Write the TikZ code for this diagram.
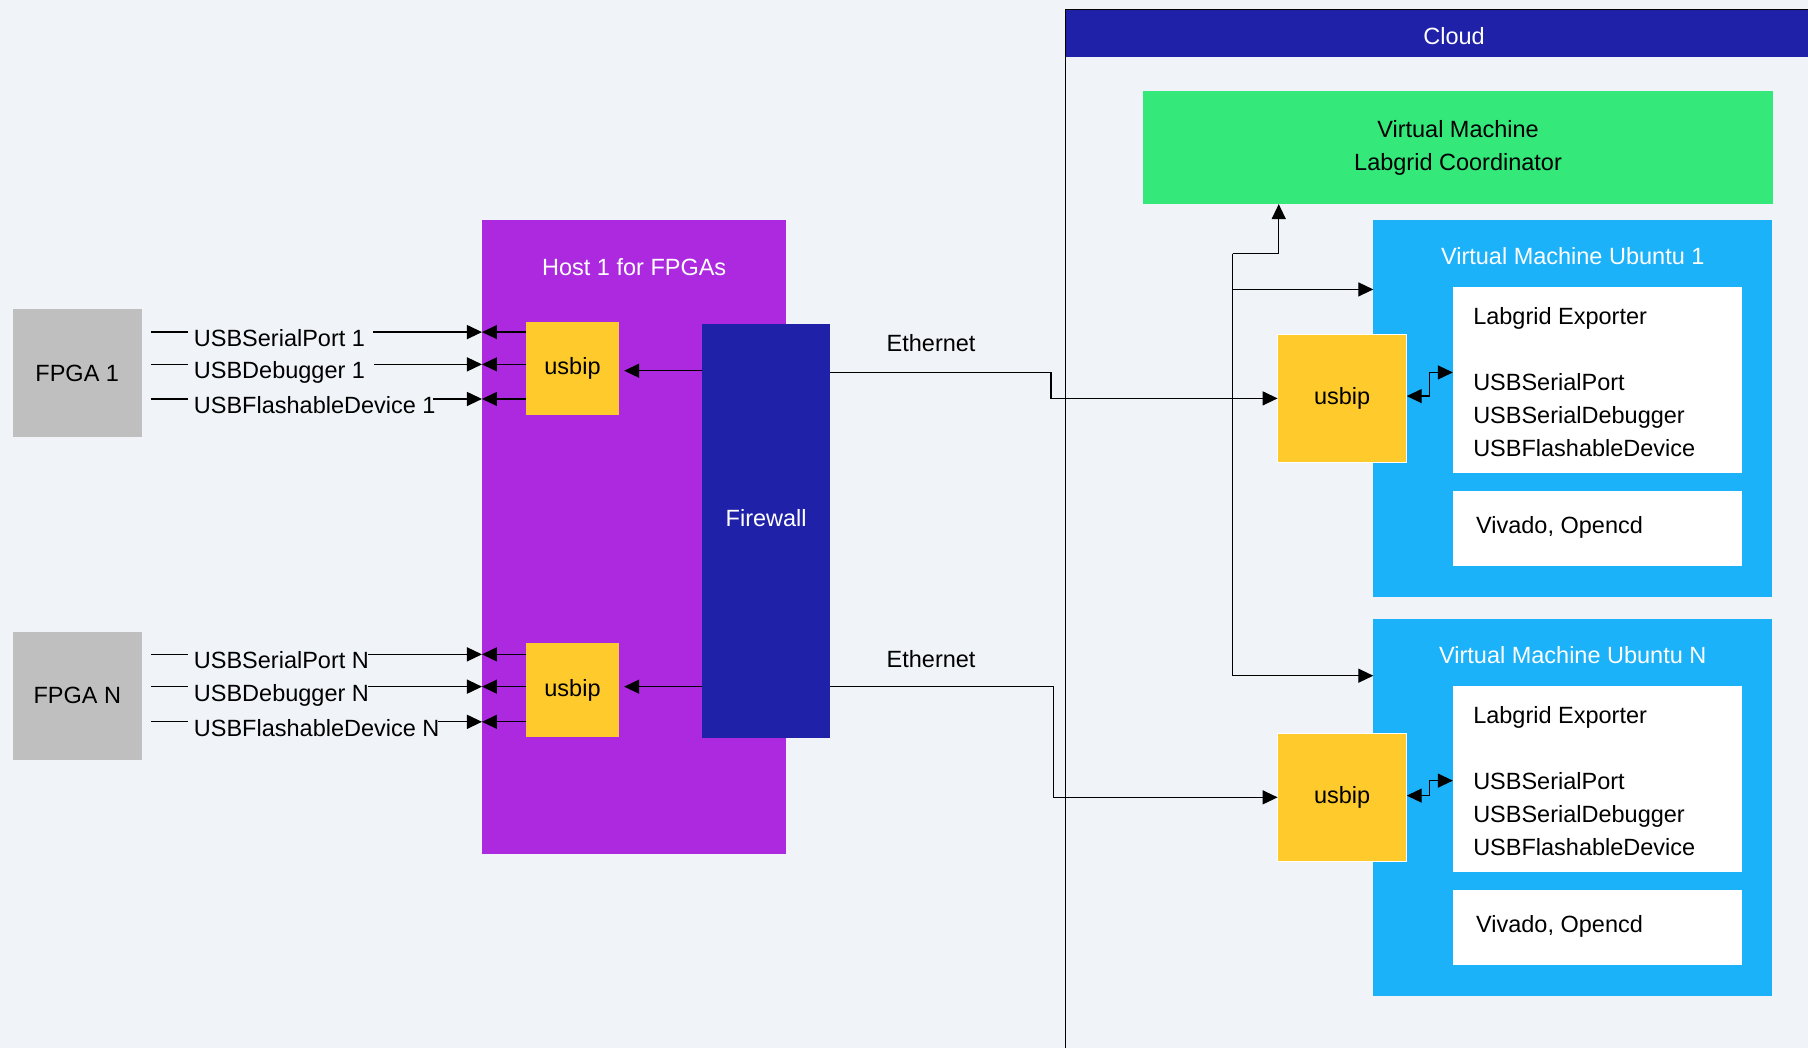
\documentclass[tikz,border=0pt]{standalone}
\usepackage{fontspec}
\setmainfont{Liberation Sans}
\usetikzlibrary{arrows.meta,calc}

\definecolor{bgcol}{HTML}{F0F4F8}
\definecolor{hostpurple}{HTML}{AD29DF}
\definecolor{usbyellow}{HTML}{FFCA2B}
\definecolor{navy}{HTML}{1F21A9}
\definecolor{vmblue}{HTML}{1BB2FA}
\definecolor{coordgreen}{HTML}{34E87A}
\definecolor{fpgagray}{HTML}{BFBFBF}

% one drawing unit
\newcommand\pxu{1.1531pt}

\begin{document}
\begin{tikzpicture}[x=1.1531pt, y=-1.1531pt,
  font=\fontsize{23.5}{33}\selectfont,
  box/.style={inner sep=0pt, outer sep=0pt, draw=none},
  rect/.style 2 args={anchor=north west, minimum width=#1*\pxu, minimum height=#2*\pxu},
  fpgabox/.style={box, fill=fpgagray},
  usbbox/.style={box, fill=usbyellow},
  vmusb/.style={box, fill=usbyellow, draw=white, line width=1pt},
  vmbox/.style={box, fill=vmblue},
  whitebox/.style={box, fill=white},
  title/.style={text=white},
  txt/.style={inner sep=0pt, align=left},
  wire/.style={line width=1.3pt},
  conn/.style={wire, -{Triangle[length=15pt,width=14pt]}},
  biconn/.style={wire, {Triangle[length=15pt,width=14pt]}-{Triangle[length=15pt,width=14pt]}},
]
% canvas
\fill[bgcol] (0,0) rectangle (1568,909);
\useasboundingbox (0,0) rectangle (1568,909);

% ---------------- cloud container ----------------
\node[box, fill=navy, rect={644}{41}] (cloudhead) at (924,8) {};
\draw[line width=1.4pt] (924,909) -- (924,8) -- (1568,8);
\node[title] (cloudtitle) at (1261,31.5) {Cloud};

% ---------------- FPGAs ----------------
\node[fpgabox, rect={112}{111}] (fpga1) at (11,268) {FPGA 1};
\node[fpgabox, rect={112}{111}] (fpgaN) at (11,548) {FPGA N};

% ---------------- host ----------------
\node[box, fill=hostpurple, rect={264}{550}] (host) at (418,191) {};
\node[title] (hosttitle) at (550,232) {Host 1 for FPGAs};
\node[usbbox, rect={81}{81}] (uh1) at (456,279) {usbip};
\node[usbbox, rect={81}{81}] (uhN) at (456,558) {usbip};
\node[box, fill=navy, rect={111}{359}] (fw) at (609,281) {};
\node[title] (fwtitle) at (664.5,449) {Firewall};

% ---------------- coordinator ----------------
\node[box, fill=coordgreen, align=center, rect={547}{98}] (coord) at (991,79)
  {Virtual Machine\\Labgrid Coordinator};

% ---------------- VM 1 ----------------
\node[vmbox, rect={346}{327}] (vm1) at (1191,191) {};
\node[title] (vm1title) at (1364,222.5) {Virtual Machine Ubuntu 1};
\node[whitebox, rect={251}{161}] (wa1) at (1260,249) {};
\node[whitebox, rect={251}{65}] (wb1) at (1260,426) {};
\node[txt, anchor=base west] (exp1) at (1277.5,395.5)
  {Labgrid Exporter\\[33pt]USBSerialPort\\USBSerialDebugger\\USBFlashableDevice};
\node[txt, anchor=base west] (tool1) at (1280,462.5) {Vivado, Opencd};
\node[vmusb, rect={112}{111}] (uv1) at (1108,290) {usbip};

% ---------------- VM N ----------------
\node[vmbox, rect={346}{327}] (vmN) at (1191,537) {};
\node[title] (vmNtitle) at (1364,568.5) {Virtual Machine Ubuntu N};
\node[whitebox, rect={251}{161}] (waN) at (1260,595) {};
\node[whitebox, rect={251}{65}] (wbN) at (1260,772) {};
\node[txt, anchor=base west] (expN) at (1277.5,741.5)
  {Labgrid Exporter\\[33pt]USBSerialPort\\USBSerialDebugger\\USBFlashableDevice};
\node[txt, anchor=base west] (toolN) at (1280,808.5) {Vivado, Opencd};
\node[vmusb, rect={112}{111}] (uvN) at (1108,636) {usbip};

% ---------------- FPGA signal rows ----------------
\coordinate (r11) at (0,288);
\coordinate (r12) at (0,316);
\coordinate (r13) at (0,346);
\coordinate (rN1) at (0,567.5);
\coordinate (rN2) at (0,595.5);
\coordinate (rN3) at (0,626);

\node[txt, anchor=base west] (l11) at (168,300.5) {USBSerialPort 1};
\node[txt, anchor=base west] (l12) at (168,328.5) {USBDebugger 1};
\node[txt, anchor=base west] (l13) at (168,358.5) {USBFlashableDevice 1};
\node[txt, anchor=base west] (lN1) at (168,580) {USBSerialPort N};
\node[txt, anchor=base west] (lN2) at (168,608) {USBDebugger N};
\node[txt, anchor=base west] (lN3) at (168,638.5) {USBFlashableDevice N};

\foreach \r/\l/\gap in {r11/l11/8pt, r12/l12/9pt, r13/l13/-3pt, rN1/lN1/-1pt, rN2/lN2/-1pt, rN3/lN3/-2pt}{
  \draw[wire, shorten <=9pt, shorten >=6pt] (fpga1.east |- \r) -- (\l.west |- \r);
  \draw[conn, shorten <=\gap] (\l.east |- \r) -- (host.west |- \r);
}

% usbip to host ports
\foreach \r in {r11,r12,r13}{
  \draw[conn] (uh1.west |- \r) -- (host.west |- \r);
}
\foreach \r in {rN1,rN2,rN3}{
  \draw[conn] (uhN.west |- \r) -- (host.west |- \r);
}

% firewall to host usbip
\coordinate (f1) at (0,321.5);
\coordinate (fN) at (0,595.5);
\draw[conn, shorten >=5pt] (fw.west |- f1) -- (uh1.east |- f1);
\draw[conn, shorten >=5pt] (fw.west |- fN) -- (uhN.east |- fN);

% ethernet links into the cloud
\coordinate (e1) at (0,323);
\coordinate (e2) at (0,595.5);
\draw[conn] (fw.east |- e1) -- ++(191.5,0) |- (uv1.west);
\draw[conn] (fw.east |- e2) -- ++(193.5,0) |- (uvN.west);
\node (eth1) at (807.5,297.5) {Ethernet};
\node (eth2) at (807.5,572) {Ethernet};

% coordinator bus
\coordinate (bus) at (1069,220);
\coordinate (tapc) at (1109,220);
\coordinate (t1) at (0,251);
\coordinate (tN) at (0,586);
\draw[conn] (bus) -- (tapc) -- (tapc |- coord.south);
\draw[conn] (bus) |- (vm1.west |- t1);
\draw[conn] (bus) |- (vmN.west |- tN);

% usbip to exporter
\coordinate (d1a) at (0,343.5);
\coordinate (d1b) at (0,323);
\coordinate (dNa) at (0,690);
\coordinate (dNb) at (0,677);
\draw[biconn] (uv1.east |- d1a) -- ++(20,0) |- (wa1.west |- d1b);
\draw[biconn] (uvN.east |- dNa) -- ++(20,0) |- (waN.west |- dNb);
\end{tikzpicture}
\end{document}
